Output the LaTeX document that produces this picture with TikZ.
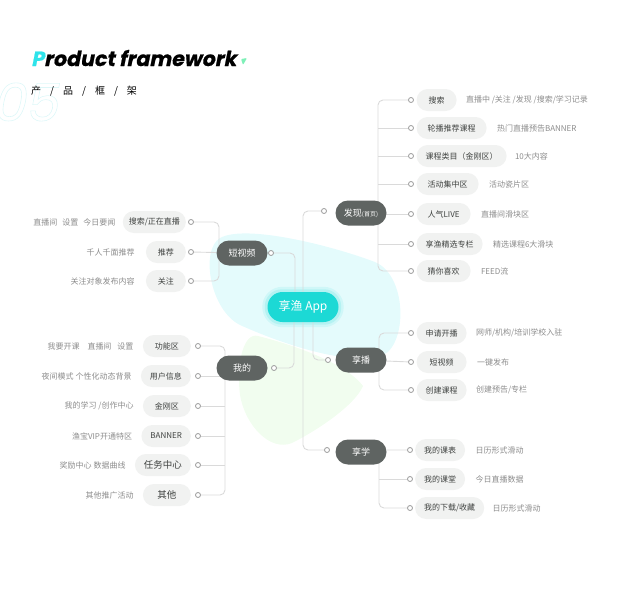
\documentclass[tikz,border=0pt]{standalone}
\usepackage{fontspec}
\setmainfont{Noto Sans CJK SC}
\newfontfamily\titlefont{Poppins}[FakeSlant=0.2, BoldFeatures={FakeBold=0.8}]
\usetikzlibrary{positioning}

\definecolor{appcyan}{HTML}{1CD9D5}
\definecolor{titlecyan}{HTML}{2EE3EA}
\definecolor{markgreen}{HTML}{7FF0B8}
\definecolor{lvone}{HTML}{5F6462}
\definecolor{chipbg}{HTML}{F1F2F1}
\definecolor{chiptext}{HTML}{3F4240}
\definecolor{desctext}{HTML}{8C8C8C}
\definecolor{linkgray}{HTML}{DADADA}
\definecolor{dotgray}{HTML}{9A9A9A}
\definecolor{blobcyan}{HTML}{E4FBFC}
\definecolor{blobgreen}{HTML}{EEFDEC}
\definecolor{bignum}{HTML}{DDF7F8}

\pgfdeclarelayer{blob}
\pgfdeclarelayer{lines}
\pgfsetlayers{blob,lines,main}

\tikzset{
  branch/.style={fill=lvone, text=white, rounded corners=12.5pt, minimum height=25pt,
    minimum width=51pt, inner sep=0pt, font=\fontsize{9}{10}\selectfont},
  chip/.style={fill=chipbg, text=chiptext, rounded corners=11pt, minimum height=22pt,
    minimum width=40pt, inner xsep=9pt, inner ysep=0pt, font=\fontsize{8}{9}\selectfont},
  desc/.style={text=desctext, inner sep=0pt, font=\fontsize{8}{9}\selectfont},
  dot/.style={circle, draw=dotgray, fill=white, line width=0.8pt, minimum size=5pt, inner sep=0pt},
  link/.style={draw=linkgray, line width=0.9pt, rounded corners=5pt},
}

\begin{document}
\begin{tikzpicture}[x=1pt,y=-1pt]
\useasboundingbox (0,0) rectangle (635,600);

% title
\node[anchor=base west, inner sep=0pt, text=bignum,
  font=\titlefont\fontsize{52}{52}\selectfont] (bignum) at (-8,121)
  {\special{pdf:literal direct 1 Tr 0.6 w}05\special{pdf:literal direct 0 Tr}};
\node[anchor=base west, inner sep=0pt, font=\titlefont\bfseries\fontsize{20.6}{21}\selectfont]
  (title) at (31,66) {\textcolor{titlecyan}{P}roduct framework};
\fill[markgreen, rounded corners=1pt] (241,59) -- (247,58) -- (243,65) -- cycle;
\node[anchor=base west, inner sep=0pt, font=\fontsize{10}{11}\selectfont] (subtitle) at (31,94)
  {产\hspace{9pt}/\hspace{9pt}品\hspace{9pt}/\hspace{9pt}框\hspace{9pt}/\hspace{9pt}架};

% centre and first level
\node[fill=appcyan, text=white, rounded corners=15pt, minimum width=71pt, minimum height=30pt,
  inner sep=0pt, font=\fontsize{12}{13}\selectfont] (app) at (303,307) {享渔 App};

\node[branch] (duan) at (242,253) {短视频};
\node[branch] (wode) at (242,368) {我的};
\node[branch] (faxian) at (361,213) {发现{\fontsize{6}{7}\selectfont(首页)}};
\node[branch] (xiangbo) at (361,360) {享播};
\node[branch] (xiangxue) at (361,452) {享学};

\node[dot] (duandot) at (271,253) {};
\node[dot] (wodedot) at (274,368) {};
\node[dot] (faxiandot) at (324,211) {};
\node[dot] (xiangbodot) at (328,360) {};
\node[dot] (xiangxuedot) at (327,450) {};

% duan shipin
\node[dot] (sv1dot) at (191,222) {};
\node[chip, inner xsep=6pt, left=2pt of sv1dot] (sv1) {搜索/正在直播};
\node[desc, left=7pt of sv1] {直播间\hspace{5pt}设置\hspace{5pt}今日要闻};
\node[dot] (sv2dot) at (191,252) {};
\node[chip, left=2pt of sv2dot] (sv2) {推荐};
\node[desc, left=11pt of sv2] {千人千面推荐};
\node[dot] (sv3dot) at (191,281) {};
\node[chip, left=2pt of sv3dot] (sv3) {关注};
\node[desc, left=11pt of sv3] {关注对象发布内容};

% wode
\node[dot] (wd1dot) at (198,346) {};
\node[chip, minimum width=48pt, left=4pt of wd1dot] (wd1) {功能区};
\node[desc, left=9pt of wd1] {我要开课\hspace{8pt}直播间\hspace{6pt}设置};
\node[dot] (wd2dot) at (198,376) {};
\node[chip, minimum width=48pt, left=4pt of wd2dot] (wd2) {用户信息};
\node[desc, left=9pt of wd2] {夜间模式 个性化动态背景};
\node[dot] (wd3dot) at (198,406) {};
\node[chip, minimum width=48pt, left=4pt of wd3dot] (wd3) {金刚区};
\node[desc, left=9pt of wd3] {我的学习 /创作中心};
\node[dot] (wd4dot) at (198,436) {};
\node[chip, minimum width=48pt, left=4pt of wd4dot] (wd4) {BANNER};
\node[desc, left=9pt of wd4] {渔宝VIP开通特区};
\node[dot] (wd5dot) at (198,465) {};
\node[chip, minimum width=48pt, left=4pt of wd5dot, font=\fontsize{9.5}{10}\selectfont] (wd5) {任务中心};
\node[desc, left=9pt of wd5] {奖励中心 数据曲线};
\node[dot] (wd6dot) at (198,495) {};
\node[chip, minimum width=48pt, left=4pt of wd6dot, font=\fontsize{9.5}{10}\selectfont] (wd6) {其他};
\node[desc, left=9pt of wd6] {其他推广活动};

% faxian
\node[dot] (fx1dot) at (411,100) {};
\node[chip, inner xsep=11pt, right=2.5pt of fx1dot] (fx1) {搜索};
\node[desc, right=9pt of fx1] {直播中 /关注 /发现 /搜索/学习记录};
\node[dot] (fx2dot) at (411,128) {};
\node[chip, inner xsep=11pt, right=2.5pt of fx2dot] (fx2) {轮播推荐课程};
\node[desc, right=10pt of fx2] {热门直播预告BANNER};
\node[dot] (fx3dot) at (411,156) {};
\node[chip, right=2.5pt of fx3dot] (fx3) {课程类目（金刚区）};
\node[desc, right=8pt of fx3] {10大内容};
\node[dot] (fx4dot) at (411,184) {};
\node[chip, inner xsep=11pt, right=2.5pt of fx4dot] (fx4) {活动集中区};
\node[desc, right=10pt of fx4] {活动瓷片区};
\node[dot] (fx5dot) at (411,214) {};
\node[chip, inner xsep=11pt, right=2.5pt of fx5dot] (fx5) {人气LIVE};
\node[desc, right=10pt of fx5] {直播间滑块区};
\node[dot] (fx6dot) at (411,244) {};
\node[chip, right=2.5pt of fx6dot] (fx6) {享渔精选专栏};
\node[desc, right=10pt of fx6] {精选课程6大滑块};
\node[dot] (fx7dot) at (411,271) {};
\node[chip, inner xsep=11pt, right=2.5pt of fx7dot] (fx7) {猜你喜欢};
\node[desc, right=10pt of fx7] {FEED流};

% xiangbo
\node[dot] (xb1dot) at (411,333) {};
\node[chip, minimum width=50pt, right=2.5pt of xb1dot] (xb1) {申请开播};
\node[desc, right=9pt of xb1] {网师/机构/培训学校入驻};
\node[dot] (xb2dot) at (411,362) {};
\node[chip, minimum width=50pt, right=2.5pt of xb2dot] (xb2) {短视频};
\node[desc, right=10pt of xb2] {一键发布};
\node[dot] (xb3dot) at (411,390) {};
\node[chip, minimum width=50pt, right=2.5pt of xb3dot] (xb3) {创建课程};
\node[desc, right=9pt of xb3] {创建预告/专栏};

% xiangxue
\node[dot] (xx1dot) at (410,450) {};
\node[chip, minimum width=50pt, right=2pt of xx1dot] (xx1) {我的课表};
\node[desc, right=10pt of xx1] {日历形式滑动};
\node[dot] (xx2dot) at (410,479) {};
\node[chip, minimum width=50pt, right=2pt of xx2dot] (xx2) {我的课堂};
\node[desc, right=10pt of xx2] {今日直播数据};
\node[dot] (xx3dot) at (410,508) {};
\node[chip, right=2pt of xx3dot] (xx3) {我的下载/收藏};
\node[desc, right=8pt of xx3] {日历形式滑动};

\coordinate (svspine) at (219,253);
\coordinate (wdspine) at (225,368);
\coordinate (fxspine) at (378,213);
\coordinate (xbspine) at (379,360);
\coordinate (xxspine) at (379,452);

\begin{pgfonlayer}{blob}
\fill[blobcyan] (220,238) .. controls (245,224) and (330,245) .. (375,262)
  .. controls (404,274) and (408,332) .. (388,352)
  .. controls (366,368) and (300,352) .. (240,325)
  .. controls (210,310) and (200,250) .. (220,238) -- cycle;
\fill[blobgreen, opacity=0.85] (258,336) .. controls (290,344) and (345,362) .. (363,386)
  .. controls (355,405) and (318,430) .. (292,443)
  .. controls (270,452) and (245,425) .. (240,395)
  .. controls (236,362) and (244,332) .. (258,336) -- cycle;
\fill[appcyan, opacity=0.10, rounded corners=20pt] ([shift={(-5,5)}]app.south west) rectangle ([shift={(5,-5)}]app.north east);
\fill[appcyan, opacity=0.15, rounded corners=17pt] ([shift={(-2.5,2.5)}]app.south west) rectangle ([shift={(2.5,-2.5)}]app.north east);
\end{pgfonlayer}

\begin{pgfonlayer}{lines}
% left side
\draw[link] (sv1dot) -| (svspine |- sv3dot) -- (sv3dot);
\draw[link] (sv2dot) -- (duan);
\draw[link] (wd1dot) -| (wdspine |- wd6dot) -- (wd6dot);
\foreach \i in {2,...,5}
  \draw[link] (wd\i dot) -- (wdspine |- wd\i dot);
% right side
\draw[link] (fx1dot) -| (fxspine |- fx7dot) -- (fx7dot);
\foreach \i in {2,...,6}
  \draw[link] (fxspine |- fx\i dot) -- (fx\i dot);
\draw[link] (xb1dot) -| (xbspine |- xb3dot) -- (xb3dot);
\draw[link] (xiangbo) -- (xb2dot);
\draw[link] (xx1dot) -| (xxspine |- xx3dot) -- (xx3dot);
\draw[link] (xxspine |- xx2dot) -- (xx2dot);
% centre
\draw[link] (duandot) -| ([xshift=-8pt]app.north);
\draw[link] (wodedot) -| ([xshift=-9pt]app.south);
\draw[link] (faxiandot) -| (app.center |- xiangxuedot) -- (xiangxuedot);
\draw[link] ([xshift=10pt]app.south) |- (xiangbodot);
\end{pgfonlayer}
\end{tikzpicture}
\end{document}
